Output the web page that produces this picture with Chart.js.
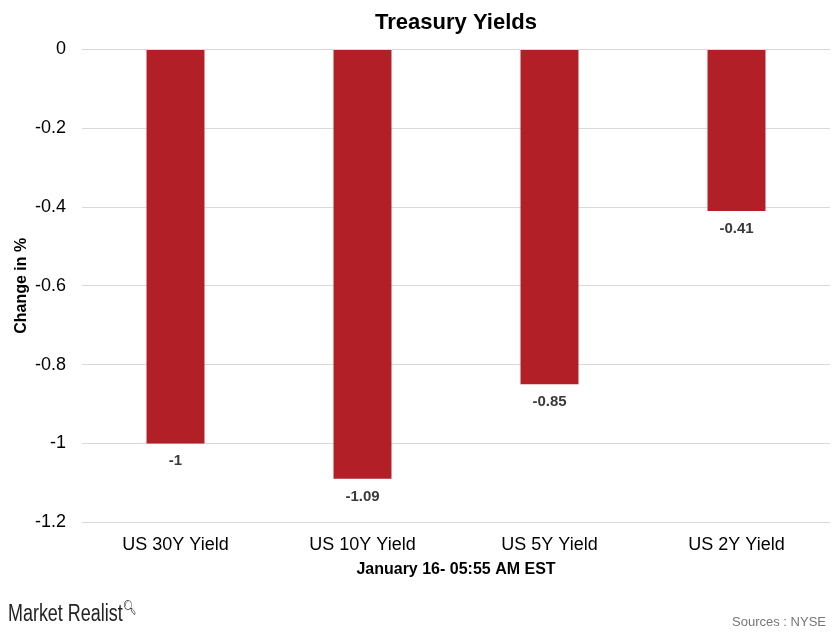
<!DOCTYPE html>
<html>
<head>
<meta charset="utf-8">
<script src="https://cdn.jsdelivr.net/npm/chart.js@4"></script>
<style>
  html, body { margin: 0; padding: 0; background: #fff; }
  #wrap { position: relative; width: 833px; height: 633px; font-family: "Liberation Sans", Arial, sans-serif; }
  #logo { position: absolute; left: 8px; top: 599px; font-size: 23px; color: #222; transform: scaleX(0.78); transform-origin: left top; white-space: nowrap; }
  #logo sup { font-size: 14px; }
  #source { position: absolute; right: 7px; top: 614px; font-size: 13px; color: #777; }
</style>
</head>
<body>
<div id="wrap">
  <canvas id="chart" width="833" height="633"></canvas>
  <div id="logo">Market Realist<sup>&#x1F50D;&#xFE0E;</sup></div>
  <div id="source">Sources : NYSE</div>
</div>
<script>
// Datos del gráfico
const categorias = ['US 30Y Yield', 'US 10Y Yield', 'US 5Y Yield', 'US 2Y Yield'];
const cambios = [-1, -1.09, -0.85, -0.41];
const ticksY = [0, -0.2, -0.4, -0.6, -0.8, -1, -1.2];

const FONT = '"Liberation Sans", Arial, sans-serif';

// etiquetas bajo cada barra
const etiquetasPlugin = {
  id: 'etiquetas',
  afterDatasetsDraw(chart) {
    const ctx = chart.ctx;
    const meta = chart.getDatasetMeta(0);
    ctx.save();
    ctx.font = 'bold 15px ' + FONT;
    ctx.fillStyle = '#3a3a3a';
    ctx.textAlign = 'center';
    ctx.textBaseline = 'top';
    meta.data.forEach((bar, i) => {
      ctx.fillText(String(cambios[i]), bar.x, bar.y + 10);
    });
    ctx.restore();
  }
};

new Chart(document.getElementById('chart'), {
  type: 'bar',
  data: {
    labels: categorias,
    datasets: [{
      label: 'Change in %',
      data: cambios,
      backgroundColor: '#b31f26',
      barPercentage: 0.62,
      categoryPercentage: 0.5
    }]
  },
  options: {
    responsive: false,
    animation: false,
    layout: { padding: { top: 0, right: 3, bottom: 50, left: 0 } },
    plugins: {
      legend: { display: false },
      tooltip: { enabled: false },
      title: {
        display: true,
        fullSize: false,
        text: 'Treasury Yields',
        color: '#000',
        font: { family: FONT, size: 22, weight: 'bold' },
        padding: { top: 10, bottom: 13 }
      }
    },
    scales: {
      x: {
        grid: { display: false },
        border: { display: false },
        ticks: { color: '#000', font: { family: FONT, size: 18 }, padding: 4 },
        title: {
          display: true,
          text: 'January 16- 05:55 AM EST',
          color: '#000',
          font: { family: FONT, size: 16, weight: 'bold' },
          padding: { top: 0 }
        }
      },
      y: {
        min: -1.2,
        max: 0,
        afterBuildTicks(scale) {
          scale.ticks = ticksY.map(v => ({ value: v }));
        },
        afterFit(scale) {
          scale.width = 82;
        },
        grid: { color: '#d9d9d9', drawTicks: false },
        border: { display: false },
        ticks: {
          color: '#000',
          font: { family: FONT, size: 18 },
          padding: 16,
          callback: v => String(Math.round(v * 10) / 10)
        },
        title: {
          display: true,
          text: 'Change in %',
          color: '#000',
          font: { family: FONT, size: 16, weight: 'bold' },
          padding: { top: 12, bottom: 0 }
        }
      }
    }
  },
  plugins: [etiquetasPlugin]
});
</script>
</body>
</html>
